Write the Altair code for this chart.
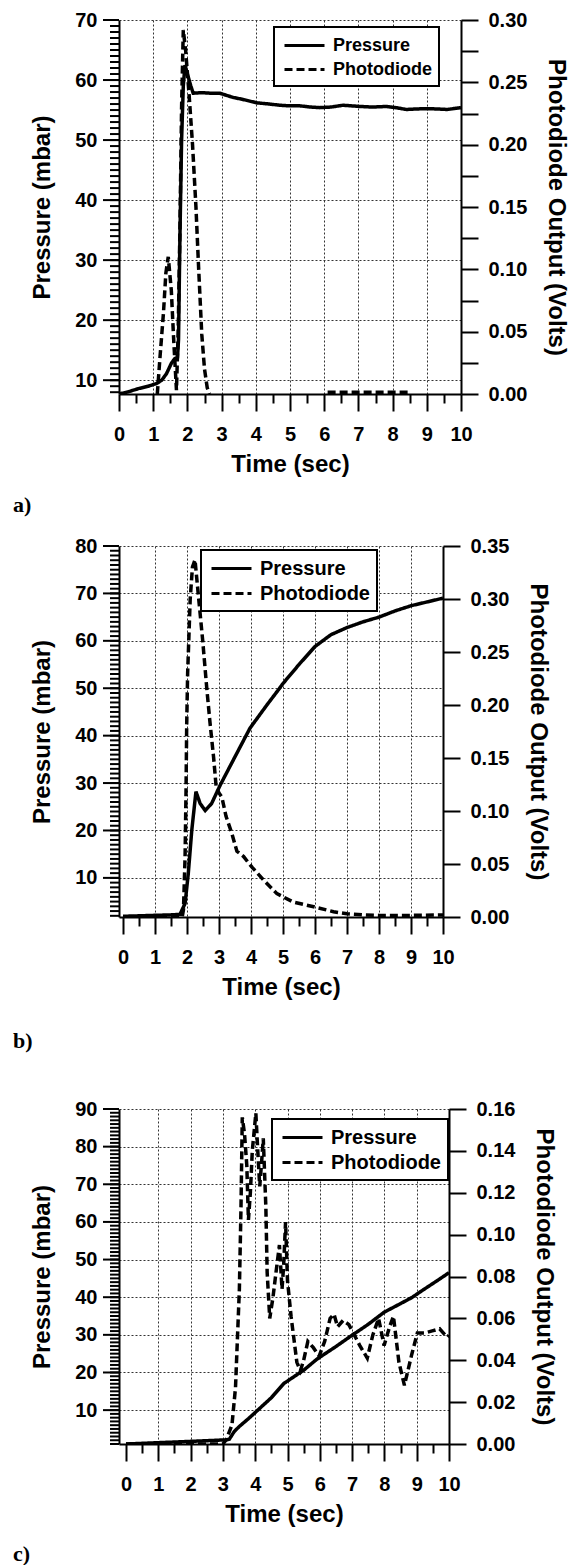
import altair as alt
import pandas as pd

# ---------------- data ----------------
# Panel a
a_p_time = [0.0, 0.26, 0.57, 0.86, 1.1, 1.25, 1.39, 1.53, 1.63, 1.71, 1.74, 1.78, 1.83, 1.88, 1.93,
            2.0, 2.1, 2.17, 2.4, 2.7, 2.95, 3.34, 3.6, 4.03, 4.4, 4.7, 5.0, 5.29, 5.6, 5.87, 6.2,
            6.55, 7.04, 7.4, 7.82, 8.1, 8.4, 8.8, 9.2, 9.6, 10.0]
a_pressure = [7.7, 8.05, 8.6, 9.0, 9.45, 10.0, 11.1, 12.8, 13.6, 13.8, 16.7, 33.3, 50.0, 59.0, 62.5,
              61.0, 59.0, 57.8, 57.9, 57.8, 57.8, 57.1, 56.8, 56.2, 56.0, 55.8, 55.7, 55.7, 55.5, 55.4, 55.5,
              55.8, 55.6, 55.5, 55.6, 55.4, 55.1, 55.2, 55.2, 55.1, 55.4]
a_v_time = [1.12, 1.2, 1.3, 1.37, 1.44, 1.53, 1.6, 1.68, 1.73, 1.78, 1.83, 1.88, 1.95, 2.05, 2.15,
            2.25, 2.33, 2.42, 2.5, 2.58, 2.65, 6.1, 8.5]
a_volts = [0.0, 0.03, 0.065, 0.097, 0.11, 0.083, 0.043, 0.003, 0.05, 0.13, 0.23, 0.292, 0.275, 0.24, 0.2,
           0.15, 0.1, 0.048, 0.02, 0.005, 0.0, 0.0015, 0.0015]
a_v_seg = [1] * 21 + [2] * 2

# Panel b
b_p_time = [0.0, 0.5, 1.0, 1.5, 1.78, 1.94, 2.04, 2.15, 2.28, 2.41, 2.57, 2.77, 3.04, 3.45, 3.97, 4.5,
            4.86, 5.0, 5.5, 6.0, 6.5, 7.0, 7.5, 8.0, 8.5, 9.0, 9.5, 10.0]
b_pressure = [1.9, 2.0, 2.1, 2.2, 2.3, 4.6, 10.9, 20.1, 28.2, 25.7, 24.2, 25.7, 29.6, 34.9, 41.6, 46.5,
              49.7, 51.0, 55.0, 58.8, 61.3, 62.8, 64.0, 65.0, 66.3, 67.4, 68.2, 69.0]
b_v_time = [0.0, 1.0, 1.85, 1.89, 1.94, 1.97, 1.99, 2.02, 2.1, 2.17, 2.25, 2.36, 2.49, 2.62, 2.72, 2.83,
            2.91, 3.0, 3.09, 3.22, 3.4, 3.56, 3.77, 4.03, 4.39, 4.81, 5.33, 5.96, 6.58, 7.0, 7.5, 8.0,
            9.0, 10.0]
b_volts = [0.0, 0.0, 0.0, 0.007, 0.057, 0.12, 0.18, 0.23, 0.3, 0.33, 0.337, 0.302, 0.261, 0.215, 0.183,
           0.151, 0.123, 0.117, 0.113, 0.095, 0.079, 0.062, 0.057, 0.047, 0.035, 0.022, 0.014, 0.0097,
           0.005, 0.003, 0.002, 0.0015, 0.0015, 0.002]

# Panel c
c_p_time = [0.0, 1.0, 2.0, 3.1, 3.2, 3.35, 3.5, 3.8, 4.08, 4.5, 4.89, 5.5, 5.92, 6.5, 6.95, 7.5, 7.99,
            8.5, 8.85, 9.14, 9.6, 10.0]
c_pressure = [1.0, 1.35, 1.7, 2.1, 2.3, 4.3, 5.6, 7.8, 10.0, 13.3, 17.1, 20.6, 23.6, 26.9, 29.6, 32.8,
              36.0, 38.3, 39.9, 41.6, 44.2, 46.5]
c_v_time = [0, 1, 2, 3.0, 3.1, 3.28, 3.39, 3.51, 3.56, 3.6, 3.67, 3.74, 3.79, 3.85, 3.91, 4.02, 4.08,
            4.14, 4.2, 4.25, 4.33, 4.37, 4.45, 4.55, 4.66, 4.75, 4.83, 4.88, 4.94, 5.0, 5.11, 5.29, 5.4,
            5.5, 5.63, 5.8, 5.98, 6.15, 6.32, 6.44, 6.55, 6.72, 6.9, 7.07, 7.24, 7.47, 7.64, 7.82, 7.99,
            8.16, 8.28, 8.45, 8.62, 8.85, 9.02, 9.25, 9.48, 9.71, 9.94, 10]
c_volts = [0, 0, 0, 0, 0.002, 0.009, 0.027, 0.074, 0.113, 0.156, 0.148, 0.133, 0.107, 0.12, 0.14, 0.158,
           0.14, 0.123, 0.135, 0.146, 0.113, 0.082, 0.06, 0.07, 0.084, 0.095, 0.074, 0.085, 0.106, 0.078,
           0.061, 0.039, 0.035, 0.04, 0.049, 0.046, 0.042, 0.049, 0.06, 0.062, 0.056, 0.059, 0.057,
           0.052, 0.047, 0.041, 0.052, 0.06, 0.047, 0.056, 0.061, 0.039, 0.028, 0.043, 0.053, 0.053,
           0.054, 0.055, 0.051, 0.052]

series_names = ["Pressure", "Photodiode"]
x_ticks = [i * 0.5 for i in range(21)]

FONT = "Liberation Sans"


def panel(p_t, p_v, v_t, v_v, v_seg, p_dom, v_dom, v_step, v_label_every, x_min,
          width, height, leg_x, leg_y, leg_font, letter, letter_y):
    pdf = pd.DataFrame({"Time": p_t, "Value": p_v, "series": series_names[0]})
    vdf = pd.DataFrame({"Time": v_t, "Value": v_v, "series": series_names[1],
                        "seg": v_seg if v_seg is not None else [1] * len(v_t)})

    x_enc = alt.X(
        "Time:Q",
        scale=alt.Scale(domain=[x_min, 10], nice=False, zero=False),
        axis=alt.Axis(
            values=x_ticks,
            title="Time (sec)",
            domain=True, ticks=True,
            tickSize={"condition": {"test": "datum.value % 1 === 0", "value": 17}, "value": 9},
            labelExpr="datum.value % 1 === 0 ? format(datum.value, 'd') : ''",
            grid=True, gridDash=[2, 2], gridColor="#333", gridWidth=1,
            gridOpacity={"condition": {"test": "datum.value % 1 === 0 && datum.value > 0 && datum.value < 10",
                                       "value": 1}, "value": 0},
            labelFlush=False, labelOverlap=False, labelPadding=13, titlePadding=8,
        ),
    )

    lo = int(p_dom[0]) + (0 if p_dom[0] == int(p_dom[0]) else 1)
    p_ticks = [float(v) for v in range(lo, int(p_dom[1]) + 1)]
    y_left = alt.Y(
        "Value:Q",
        scale=alt.Scale(domain=p_dom, nice=False, zero=False),
        axis=alt.Axis(
            orient="left", values=p_ticks, title="Pressure (mbar)",
            domain=True, ticks=False,
            labelExpr="datum.value % 10 === 0 ? format(datum.value, 'd') : ''",
            grid=True, gridDash=[2, 2], gridColor="#333", gridWidth=1,
            gridOpacity={"condition": {"test": "datum.value % 10 === 0", "value": 1}, "value": 0},
            labelOverlap=False, labelPadding=22, titlePadding=20,
        ),
    )

    # ruler-style tick marks of the pressure axis (minor every 1 mbar, major every 10)
    tdf = pd.DataFrame({"Value": p_ticks})
    minor_ticks = alt.Chart(tdf).mark_rule(color="black", strokeWidth=2).encode(
        y=y_left, x=alt.value(-9), x2=alt.value(0))
    major_ticks = alt.Chart(tdf).transform_filter("datum.Value % 10 === 0").mark_rule(
        color="black", strokeWidth=2).encode(
        y=y_left, x=alt.value(-16), x2=alt.value(0))

    n = int(round(v_dom[1] / v_step))
    v_ticks = [round(k * v_step, 4) for k in range(n + 1)]
    every = int(round(v_label_every * 1000))
    y_right = alt.Y(
        "Value:Q",
        scale=alt.Scale(domain=v_dom, nice=False, zero=False),
        axis=alt.Axis(
            orient="right", values=v_ticks, title="Photodiode Output (Volts)",
            domain=True, ticks=True,
            tickSize=17, grid=False,
            labelExpr=f"round(datum.value*1000) % {every} === 0 ? format(datum.value, '.2f') : ''",
            labelOverlap=False, labelPadding=10, titlePadding=17,
        ),
    )

    dash = alt.StrokeDash(
        "series:N",
        scale=alt.Scale(domain=series_names, range=[[1, 0], [8, 4]]),
        legend=alt.Legend(
            title=None, orient="none", legendX=leg_x, legendY=leg_y,
            symbolType="M-2,0L2,0", symbolSize=400, symbolStrokeWidth=3, symbolStrokeColor="black",
            symbolOffset=12,
            labelFont=FONT, labelFontSize=leg_font, labelFontWeight="bold", labelColor="black",
            labelOffset=17, padding=7, rowPadding=3, fillColor="white", strokeColor="black",
        ),
    )

    press = alt.Chart(pdf).mark_line(color="black", strokeWidth=3.5, clip=True).encode(
        x=x_enc, y=y_left, strokeDash=dash)
    photo = alt.Chart(vdf).mark_line(color="black", strokeWidth=3.5, clip=True).encode(
        x=x_enc, y=y_right, strokeDash=dash, detail="seg:N")

    left_group = alt.layer(press, minor_ticks, major_ticks)

    lab = alt.Chart(pd.DataFrame({"t": [letter]})).mark_text(
        font="Liberation Serif", fontWeight="bold", fontSize=22, align="left", baseline="middle",
        color="black",
    ).encode(text="t:N", x=alt.value(-106), y=alt.value(letter_y))

    return alt.layer(left_group, photo, lab).resolve_scale(y="independent").properties(
        width=width, height=height)


spacer_df = pd.DataFrame({"s": [0]})


def spacer(h):
    return alt.Chart(spacer_df).mark_point(opacity=0).encode(
        x=alt.value(0), y=alt.value(0)).properties(width=10, height=h)


pa = panel(a_p_time, a_pressure, a_v_time, a_volts, a_v_seg, [7.7, 70], [0, 0.30], 0.025, 0.05,
           0.0, 342, 374, 155, 7, 18, "a)", 485)
pb = panel(b_p_time, b_pressure, b_v_time, b_volts, None, [1.75, 80], [0, 0.35], 0.05, 0.05,
           -0.125, 324, 371, 82, 4, 20, "b)", 495)
pc = panel(c_p_time, c_pressure, c_v_time, c_volts, None, [1.0, 90], [0, 0.16], 0.02, 0.02,
           -0.217, 330, 335, 153, 10, 20, "c)", 445)

chart = alt.vconcat(pa, spacer(152), pb, spacer(192), pc, spacing=0, bounds="flush").resolve_scale(
    strokeDash="independent"
).properties(
    padding={"left": 13, "top": 10, "right": 0, "bottom": 0}
).configure_view(stroke=None).configure_axis(
    labelFont=FONT, labelFontSize=20, labelFontWeight="bold", labelColor="black",
    titleFont=FONT, titleFontSize=24, titleFontWeight="bold", titleColor="black",
    domain=True,
    domainColor="black", domainWidth=2, tickColor="black", tickWidth=2,
).configure_legend(strokeWidth=2)

chart.save("out.html", embed_options={"renderer": "svg", "actions": False})
